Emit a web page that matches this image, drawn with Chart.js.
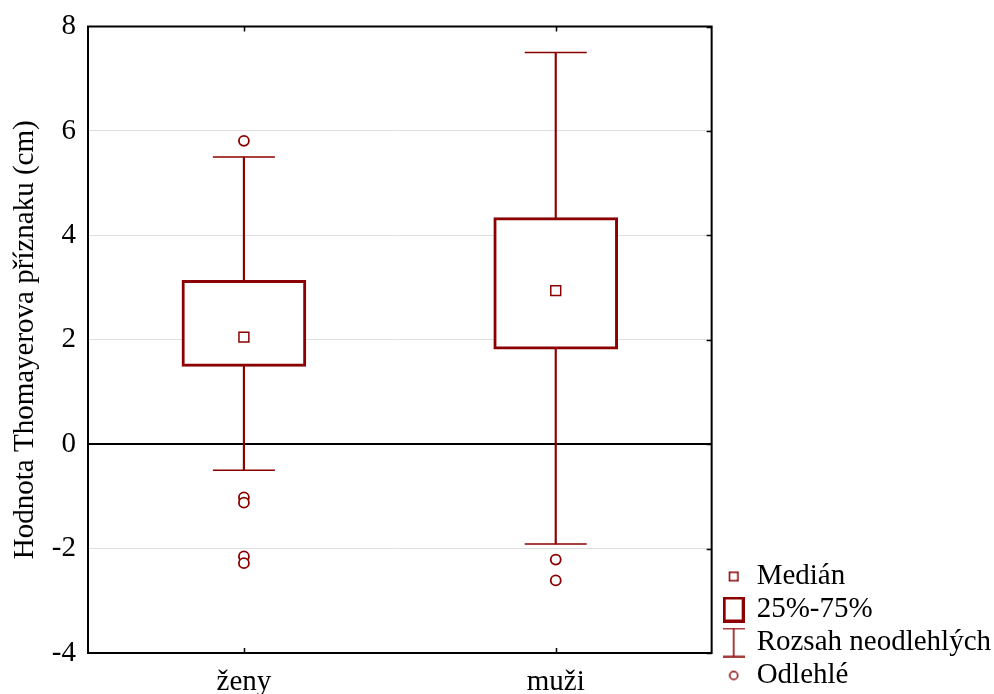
<!DOCTYPE html>
<html>
<head>
<meta charset="utf-8">
<script src="https://cdn.jsdelivr.net/npm/chart.js@4"></script>
<style>
  body { margin: 0; background: #fff; }
  #wrap { width: 994px; height: 694px; }
</style>
</head>
<body>
<div id="wrap"><canvas id="boxChart" width="994" height="694"></canvas></div>
<script>
// groups and box statistics
const groups = ['ženy', 'muži'];
const q1 = [1.49, 1.82];
const q3 = [3.14, 4.34];
const medians = [2.05, 2.94];
const whiskerLow = [-0.5, -1.91];
const whiskerHigh = [5.5, 7.5];
const outliersZeny = [5.81, -1.02, -1.12, -2.15, -2.28];
const outliersMuzi = [-2.21, -2.61];
const yTicks = [-4, -2, 0, 2, 4, 6, 8];

const dark = '#8b0000';
const font = "'Liberation Serif', 'Times New Roman', serif";

// small canvases used as legend markers
function mark(w, h, draw) {
  var c = document.createElement('canvas');
  c.width = w; c.height = h;
  var g = c.getContext('2d');
  g.strokeStyle = dark;
  draw(g);
  return c;
}
var medianMark = mark(22, 12, function (g) { g.lineWidth = 1.5; g.strokeRect(6.75, 1.75, 8.5, 8.5); });
var boxMark = mark(22, 26, function (g) { g.lineWidth = 3; g.strokeRect(1.5, 1.5, 19, 23); });
var whiskerMark = mark(22, 30, function (g) {
  g.lineWidth = 1.5;
  g.beginPath();
  g.moveTo(11, 1); g.lineTo(11, 29);
  g.moveTo(0, 1); g.lineTo(22, 1);
  g.moveTo(0, 29); g.lineTo(22, 29);
  g.stroke();
});
var outlierMark = mark(22, 12, function (g) { g.lineWidth = 1.5; g.beginPath(); g.arc(11, 6, 4, 0, Math.PI * 2); g.stroke(); });

var outlierPoints = outliersZeny.map(function (v) { return {x: groups[0], y: v}; })
  .concat(outliersMuzi.map(function (v) { return {x: groups[1], y: v}; }));

// frame round the plot and the small inward ticks
var framePlugin = {
  id: 'frame',
  beforeDatasetsDraw: function (chart) {
    var a = chart.chartArea, ctx = chart.ctx;
    var xs = chart.scales.x, ys = chart.scales.y;
    ctx.save();
    ctx.strokeStyle = '#000';
    ctx.lineWidth = 2;
    ctx.strokeRect(a.left, a.top, a.right - a.left, a.bottom - a.top);
    ctx.lineWidth = 1.5;
    ctx.beginPath();
    xs.ticks.forEach(function (t, i) {
      var px = Math.round(xs.getPixelForTick(i)) + 0.5;
      ctx.moveTo(px, a.bottom); ctx.lineTo(px, a.bottom - 5);
      ctx.moveTo(px, a.top); ctx.lineTo(px, a.top + 5);
    });
    ys.ticks.forEach(function (t) {
      var py = Math.round(ys.getPixelForValue(t.value)) + 0.5;
      ctx.moveTo(a.right, py); ctx.lineTo(a.right - 5, py);
    });
    ctx.stroke();
    ctx.restore();
  }
};

new Chart(document.getElementById('boxChart'), {
  type: 'bar',
  data: {
    labels: groups,
    datasets: [{
      label: 'whisker',
      data: groups.map(function (g, i) { return [whiskerLow[i], whiskerHigh[i]]; }),
      backgroundColor: dark,
      borderWidth: 0,
      barThickness: 1.5,
      grouped: false,
      order: 4
    }, {
      label: '25%-75%',
      data: groups.map(function (g, i) { return [q1[i], q3[i]]; }),
      backgroundColor: '#fff',
      borderColor: dark,
      borderWidth: 3,
      borderSkipped: false,
      barThickness: 124,
      grouped: false,
      order: 3
    }, {
      type: 'line',
      label: 'caps low',
      data: whiskerLow,
      showLine: false,
      pointStyle: 'line',
      pointRadius: 31,
      pointBorderWidth: 1.5,
      pointBorderColor: dark,
      order: 2
    }, {
      type: 'line',
      label: 'caps high',
      data: whiskerHigh,
      showLine: false,
      pointStyle: 'line',
      pointRadius: 31,
      pointBorderWidth: 1.5,
      pointBorderColor: dark,
      order: 2
    }, {
      type: 'line',
      label: 'Medián',
      data: medians,
      showLine: false,
      pointStyle: 'rect',
      pointRadius: 7,
      pointBorderWidth: 1.5,
      pointBorderColor: dark,
      pointBackgroundColor: '#fff',
      order: 1
    }, {
      type: 'line',
      label: 'Odlehlé',
      data: outlierPoints,
      showLine: false,
      pointStyle: 'circle',
      pointRadius: 5,
      pointBorderWidth: 1.8,
      pointBorderColor: dark,
      pointBackgroundColor: '#fff',
      order: 1
    }]
  },
  options: {
    responsive: false,
    animation: false,
    layout: { autoPadding: false, padding: { top: 24, bottom: 0, left: 0, right: -7 } },
    scales: {
      x: {
        grid: { display: false, drawTicks: false },
        border: { display: false },
        ticks: { color: '#000', padding: 15, font: { family: font, size: 29, lineHeight: 1 } },
        afterFit: function (s) { s.height = 41; }
      },
      y: {
        min: -4,
        max: 8,
        afterBuildTicks: function (s) { s.ticks = yTicks.map(function (v) { return {value: v}; }); },
        grid: {
          drawTicks: false,
          color: function (c) { return c.tick && c.tick.value === 0 ? '#000' : '#dedede'; },
          lineWidth: function (c) { return c.tick && c.tick.value === 0 ? 2 : 1; }
        },
        border: { display: false },
        ticks: { color: '#000', padding: 12, font: { family: font, size: 29, lineHeight: 1 } },
        title: {
          display: true,
          text: 'Hodnota Thomayerova příznaku (cm)',
          color: '#000',
          padding: { top: 11, bottom: 0 },
          font: { family: font, size: 29, lineHeight: 1 }
        },
        afterFit: function (s) { s.width = 88; }
      },
      yr: {
        position: 'right',
        grid: { display: false, drawTicks: false },
        border: { display: false },
        ticks: { display: false },
        afterFit: function (s) { s.width = 9.5; }
      }
    },
    plugins: {
      tooltip: { enabled: false },
      legend: {
        position: 'right',
        align: 'end',
        maxWidth: 300,
        labels: {
          usePointStyle: true,
          pointStyleWidth: 17,
          padding: 4,
          color: '#000',
          font: { family: font, size: 29 },
          generateLabels: function () {
            return [
              { text: 'Medián', pointStyle: medianMark },
              { text: '25%-75%', pointStyle: boxMark },
              { text: 'Rozsah neodlehlých', pointStyle: whiskerMark },
              { text: 'Odlehlé', pointStyle: outlierMark }
            ].map(function (it) {
              return { text: it.text, pointStyle: it.pointStyle, fontColor: '#000', lineWidth: 0, hidden: false };
            });
          }
        }
      }
    }
  },
  plugins: [framePlugin]
});
</script>
</body>
</html>
